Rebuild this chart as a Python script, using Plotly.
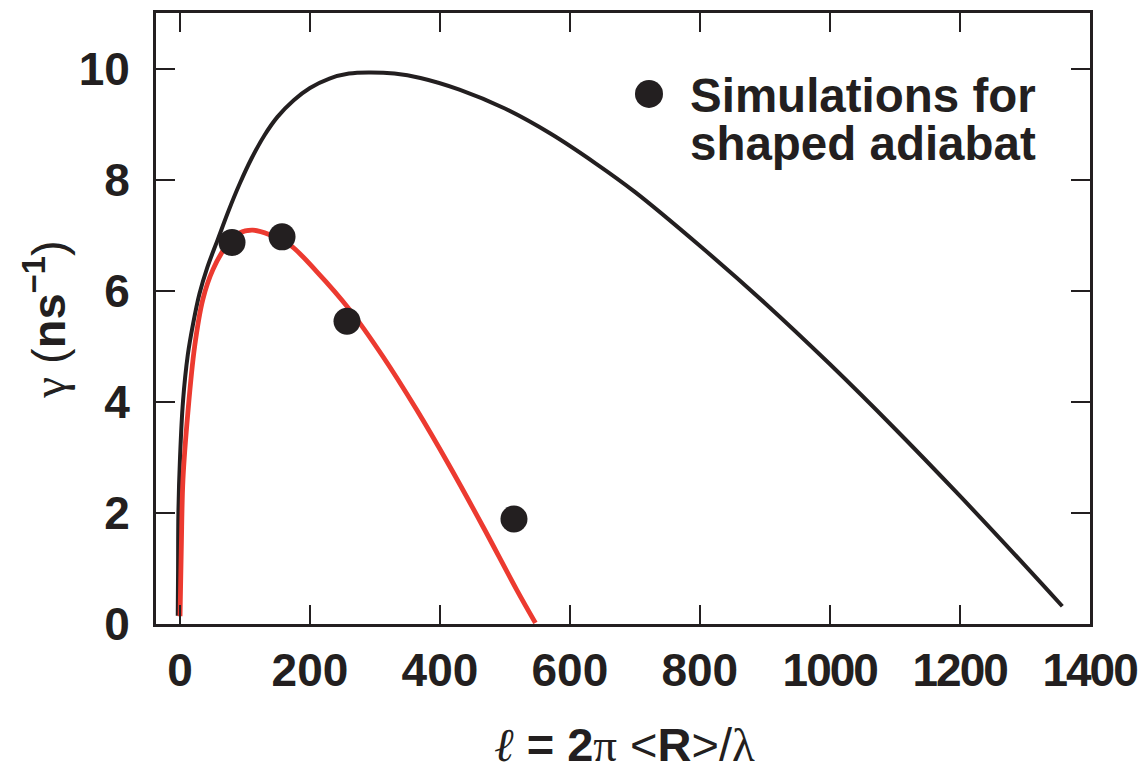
import plotly.graph_objects as go

# ---- data ----
black_x = [-3.5, -3, -2.5, 0, 4.5, 12, 20, 30, 42, 58, 75, 92, 110, 130, 150, 175, 200,
           230, 260, 290, 330, 370, 430, 500, 570, 640, 700, 800, 900, 1000, 1100, 1200,
           1300, 1358]
black_y = [0.15, 1.0, 2.0, 3.0, 4.0, 4.85, 5.4, 5.95, 6.42, 6.92, 7.45, 7.93, 8.38, 8.8,
           9.13, 9.43, 9.65, 9.82, 9.91, 9.93, 9.91, 9.83, 9.62, 9.28, 8.83, 8.29, 7.78,
           6.81, 5.78, 4.68, 3.52, 2.31, 1.06, 0.32]

red_x = [0, 2, 4.5, 12, 22.5, 35, 50.6, 71, 91.7, 112, 138, 168.7, 210, 261, 312, 364,
         415, 466, 518, 547]
red_y = [0.14, 1.4, 2.6, 3.8, 5.0, 5.84, 6.38, 6.8, 7.04, 7.09, 7.01, 6.83, 6.35, 5.66,
         4.82, 3.86, 2.84, 1.76, 0.62, 0.02]

sim_x = [80, 157, 257, 514]
sim_y = [6.87, 6.97, 5.45, 1.89]

x_ticks = [0, 200, 400, 600, 800, 1000, 1200, 1400]
y_ticks = [0, 2, 4, 6, 8, 10]

legend_lines = ["Simulations for", "shaped adiabat"]

INK = "#231F20"
RED = "#EC3A30"
SANS = "Liberation Sans, Arial, sans-serif"
SERIF = "Liberation Serif, DejaVu Serif, serif"


def x_label(v):
    s = str(v)
    if len(s) >= 4:
        return f'<span style="letter-spacing:-2px">{s}</span>'
    return s


fig = go.Figure()
fig.add_trace(go.Scatter(x=black_x, y=black_y, mode="lines",
                         line=dict(color=INK, width=4.0, shape="spline", smoothing=1.0),
                         showlegend=False, hoverinfo="skip"))
fig.add_trace(go.Scatter(x=red_x, y=red_y, mode="lines",
                         line=dict(color=RED, width=4.8, shape="spline", smoothing=1.0),
                         showlegend=False, hoverinfo="skip"))
fig.add_trace(go.Scatter(x=sim_x, y=sim_y, mode="markers",
                         marker=dict(color=INK, size=27, line=dict(width=0)),
                         showlegend=False, hoverinfo="skip"))

axis_common = dict(
    showline=True, linewidth=2.8, linecolor=INK, mirror="ticks",
    ticks="inside", ticklen=19, tickwidth=2.4, tickcolor=INK,
    showgrid=False, zeroline=False, automargin=False,
    tickfont=dict(family=SANS, size=46, color=INK, weight="bold"),
    ticklabeloverflow="allow",
)

fig.update_xaxes(range=[-37, 1400.6], tickvals=x_ticks, ticktext=[x_label(v) for v in x_ticks],
                 ticklabelstandoff=4, **axis_common)
fig.update_yaxes(range=[0, 11], tickvals=y_ticks, ticktext=[str(v) for v in y_ticks],
                 ticklabelstandoff=14, **axis_common)

annotations = [
    dict(xref="paper", yref="paper", x=0.502, y=-0.197, xanchor="center", yanchor="middle",
         showarrow=False,
         text=(f'<span style="font-family:{SERIF};font-style:italic">ℓ</span> '
               '<b>= 2</b>'
               f'<span style="font-family:{SERIF}">π</span> '
               '&lt;<b>R</b>&gt;/'
               f'<span style="font-family:{SERIF}">λ</span>'),
         font=dict(family=SANS, size=47, color=INK)),
    dict(xref="paper", yref="paper", x=-0.1188, y=0.498, xanchor="center", yanchor="middle",
         showarrow=False, textangle=-90,
         text=(f'<span style="font-family:{SERIF}">γ</span> (<b>ns<sup>−1</sup></b>)'),
         font=dict(family=SANS, size=47, color=INK)),
    dict(xref="paper", yref="paper", x=0.5696, y=(624.5 - 96) / 611.5, xanchor="left",
         yanchor="middle", showarrow=False, text=f"<b>{legend_lines[0]}</b>",
         font=dict(family=SANS, size=47.5, color=INK)),
    dict(xref="paper", yref="paper", x=0.5696, y=(624.5 - 144) / 611.5, xanchor="left",
         yanchor="middle", showarrow=False, text=f"<b>{legend_lines[1]}</b>",
         font=dict(family=SANS, size=47.5, color=INK)),
]

shapes = [
    dict(type="circle", xref="paper", yref="paper", xsizemode="pixel", ysizemode="pixel",
         xanchor=(649 - 156) / 934, yanchor=(624.5 - 94) / 611.5,
         x0=-14, x1=14, y0=-14, y1=14, fillcolor=INK, line=dict(width=0)),
]

fig.update_layout(
    width=1138, height=770,
    margin=dict(l=156, r=48, t=13, b=145.5, autoexpand=False),
    paper_bgcolor="white", plot_bgcolor="white",
    annotations=annotations, shapes=shapes,
    showlegend=False,
)

fig.write_html("out.html")
